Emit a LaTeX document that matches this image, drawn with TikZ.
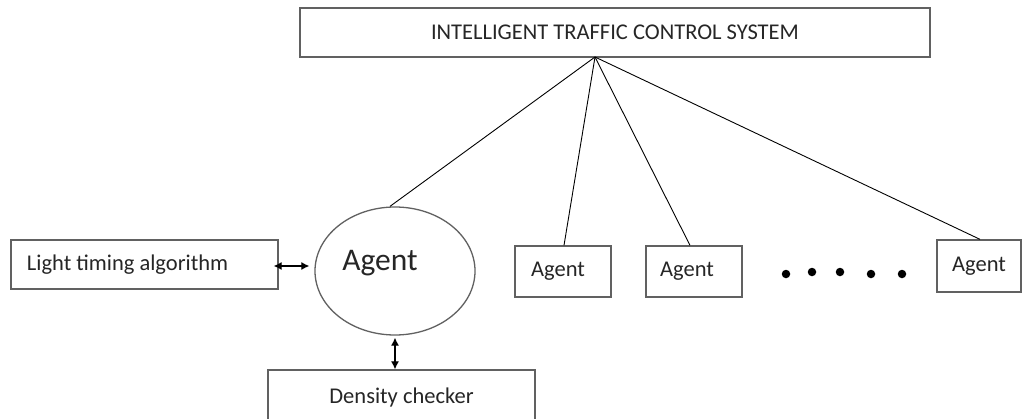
\documentclass[tikz,border=0pt]{standalone}
\usepackage{fontspec}
\setmainfont{Carlito}
\usetikzlibrary{shapes.geometric,arrows.meta}
\definecolor{boxline}{gray}{0.38}
\definecolor{txt}{gray}{0.15}
\tikzset{
  box/.style={draw=boxline,line width=1.3pt,rectangle,inner sep=0pt,text=txt,font=\fontsize{22.5}{26}\selectfont},
  link/.style={draw=black,line width=0.9pt},
  biarrow/.style={draw=black,line width=1.2pt,{Latex[length=8pt,width=8pt]}-{Latex[length=8pt,width=8pt]}},
  dot/.style={circle,fill=black,inner sep=0pt,minimum size=8.5pt}
}
\begin{document}
\begin{tikzpicture}[x=1pt,y=-1pt]
\useasboundingbox[fill=white] (0,0) rectangle (1022,418);
% top system box
\node[box,minimum width=630pt,minimum height=49pt] (itcs) at (615,32.5) {INTELLIGENT TRAFFIC CONTROL SYSTEM};
\coordinate (hub) at (595,57);
% main agent ellipse
\node[ellipse,draw=boxline,line width=1.3pt,minimum width=160pt,minimum height=128pt,inner sep=0pt,
  label={[text=txt,font=\fontsize{31.5}{36}\selectfont,xshift=-15pt,yshift=8pt]center:Agent}] (ag0) at (395,271) {};
% light timing algorithm
\node[box,minimum width=267pt,minimum height=49pt] (lta) at (144.5,264.5) {\raisebox{4pt}{\makebox[235pt][l]{Light timing algorithm}}};
% density checker
\node[box,minimum width=267pt,minimum height=60pt] (dc) at (401.5,400) {\raisebox{8pt}{Density checker}};
% other agents
\node[box,minimum width=96pt,minimum height=51pt] (ag1) at (563,271.5) {\raisebox{4pt}{Agent\hspace*{10pt}}};
\node[box,minimum width=96pt,minimum height=51pt] (ag2) at (694,271.5) {\raisebox{4pt}{Agent\hspace*{14pt}}};
\node[box,minimum width=84pt,minimum height=52pt] (ag3) at (979,266) {\raisebox{4pt}{Agent}};
% dots
\node[dot] (d1) at (786,274) {};
\node[dot] (d2) at (812,272) {};
\node[dot] (d3) at (840,272) {};
\node[dot] (d4) at (871,274) {};
\node[dot] (d5) at (902,274) {};
% connectors
\draw[link] (hub) -- ([xshift=-5pt]ag0.north);
\draw[link] (hub) -- ([xshift=1pt]ag1.north);
\draw[link] (hub) -- ([xshift=-4pt]ag2.north);
\draw[link] (hub) -- ([xshift=1pt]ag3.north);
\draw[biarrow] ([xshift=-5pt,yshift=-1.5pt]lta.east) -- ([xshift=-5pt,yshift=5pt]ag0.west);
\draw[biarrow] ([yshift=-2pt]ag0.south) -- (ag0.south |- dc.north);
\end{tikzpicture}
\end{document}
